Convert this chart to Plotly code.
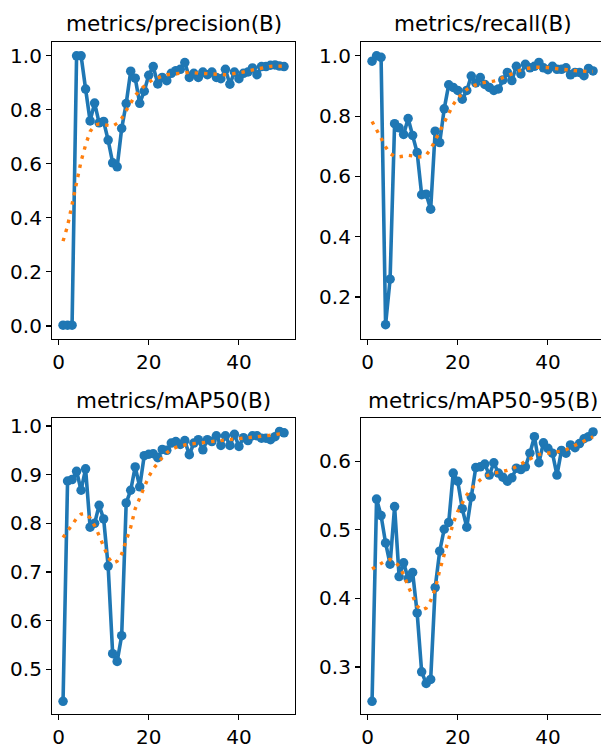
import plotly.graph_objects as go

W, H = 601, 749

epochs = list(range(1, 51))

precision = [0.003, 0.003, 0.003, 1.0, 1.0, 0.877, 0.759, 0.825, 0.752, 0.757,
             0.688, 0.604, 0.589, 0.731, 0.823, 0.943, 0.917, 0.824, 0.869, 0.928,
             0.96, 0.896, 0.92, 0.908, 0.935, 0.945, 0.95, 0.975, 0.92, 0.935,
             0.92, 0.94, 0.93, 0.94, 0.92, 0.915, 0.95, 0.895, 0.94, 0.915,
             0.935, 0.94, 0.955, 0.93, 0.96, 0.96, 0.965, 0.966, 0.962, 0.96]
precision_smooth = [0.314, 0.37, 0.45, 0.535, 0.61, 0.67, 0.72, 0.743, 0.748, 0.745,
                    0.741, 0.74, 0.75, 0.768, 0.797, 0.827, 0.853, 0.873, 0.888, 0.902,
                    0.912, 0.92, 0.925, 0.93, 0.932, 0.935, 0.937, 0.939, 0.939, 0.937,
                    0.936, 0.935, 0.934, 0.932, 0.93, 0.93, 0.93, 0.932, 0.934, 0.936,
                    0.94, 0.944, 0.948, 0.952, 0.956, 0.959, 0.961, 0.962, 0.962, 0.961]

recall = [0.982, 1.0, 0.995, 0.108, 0.259, 0.775, 0.761, 0.739, 0.792, 0.736,
          0.679, 0.539, 0.541, 0.491, 0.75, 0.712, 0.824, 0.904, 0.895, 0.885,
          0.856, 0.885, 0.933, 0.91, 0.928, 0.905, 0.895, 0.885, 0.89, 0.92,
          0.945, 0.918, 0.965, 0.94, 0.972, 0.96, 0.965, 0.978, 0.96, 0.954,
          0.965, 0.955, 0.955, 0.96, 0.937, 0.945, 0.945, 0.934, 0.958, 0.95]
recall_smooth = [0.782, 0.757, 0.727, 0.698, 0.676, 0.667, 0.665, 0.667, 0.67, 0.668,
                 0.664, 0.665, 0.671, 0.69, 0.72, 0.75, 0.78, 0.81, 0.838, 0.86,
                 0.876, 0.888, 0.898, 0.905, 0.909, 0.912, 0.914, 0.916, 0.921, 0.928,
                 0.935, 0.942, 0.948, 0.953, 0.957, 0.96, 0.962, 0.962, 0.962, 0.961,
                 0.959, 0.957, 0.955, 0.953, 0.952, 0.951, 0.95, 0.948, 0.948, 0.948]

map50 = [0.434, 0.887, 0.89, 0.907, 0.868, 0.912, 0.792, 0.8, 0.837, 0.809,
         0.712, 0.532, 0.516, 0.569, 0.842, 0.868, 0.916, 0.875, 0.939, 0.942,
         0.943, 0.935, 0.952, 0.95, 0.965, 0.968, 0.962, 0.97, 0.941, 0.965,
         0.972, 0.951, 0.972, 0.968, 0.98, 0.96, 0.98, 0.96, 0.983, 0.958,
         0.976, 0.97, 0.98, 0.98, 0.975, 0.975, 0.972, 0.978, 0.989, 0.986]
map50_smooth = [0.771, 0.784, 0.797, 0.81, 0.819, 0.82, 0.811, 0.795, 0.775, 0.752,
                0.73, 0.718, 0.722, 0.737, 0.762, 0.792, 0.83, 0.853, 0.877, 0.896,
                0.912, 0.925, 0.935, 0.945, 0.952, 0.956, 0.959, 0.961, 0.963, 0.964,
                0.965, 0.966, 0.967, 0.968, 0.969, 0.97, 0.97, 0.971, 0.972, 0.973,
                0.974, 0.975, 0.976, 0.977, 0.978, 0.979, 0.98, 0.982, 0.984, 0.985]

map5095 = [0.25, 0.545, 0.521, 0.481, 0.45, 0.534, 0.432, 0.452, 0.429, 0.438,
           0.379, 0.293, 0.276, 0.282, 0.416, 0.469, 0.501, 0.511, 0.583, 0.571,
           0.531, 0.504, 0.548, 0.591, 0.592, 0.596, 0.58, 0.598, 0.583, 0.577,
           0.571, 0.576, 0.59, 0.588, 0.592, 0.612, 0.636, 0.598, 0.627, 0.619,
           0.612, 0.58, 0.616, 0.612, 0.624, 0.62, 0.626, 0.633, 0.636, 0.643]
map5095_smooth = [0.443, 0.447, 0.451, 0.455, 0.457, 0.454, 0.447, 0.435, 0.418, 0.403,
                  0.389, 0.383, 0.386, 0.397, 0.414, 0.441, 0.465, 0.489, 0.51, 0.527,
                  0.54, 0.551, 0.56, 0.567, 0.573, 0.578, 0.581, 0.583, 0.584, 0.585,
                  0.587, 0.589, 0.592, 0.596, 0.6, 0.604, 0.607, 0.61, 0.611, 0.612,
                  0.612, 0.613, 0.615, 0.617, 0.62, 0.624, 0.627, 0.63, 0.633, 0.636]

titles = ["metrics/precision(B)", "metrics/recall(B)", "metrics/mAP50(B)", "metrics/mAP50-95(B)"]
series = [(precision, precision_smooth), (recall, recall_smooth),
          (map50, map50_smooth), (map5095, map5095_smooth)]
y_ranges = [[-0.0466, 1.0513], [0.062, 1.046], [0.408, 1.0157], [0.2315, 0.6627]]
y_ticks = [[0.0, 0.2, 0.4, 0.6, 0.8, 1.0], [0.2, 0.4, 0.6, 0.8, 1.0],
           [0.5, 0.6, 0.7, 0.8, 0.9, 1.0], [0.3, 0.4, 0.5, 0.6]]
x_ticks = [0, 20, 40]

# pixel boxes (left, right, top, bottom); right panels are cut by the page edge
px_per_epoch = 4.51
boxes = [(52, 295, 38.3, 337.7), (361, 601, 38.3, 337.7),
         (52, 295, 418.3, 716.7), (361, 601, 418.3, 716.7)]
full_right = [295, 604, 295, 604]

BLUE = "#1f77b4"
ORANGE = "#ff7f0e"
FONT = "DejaVu Sans"

fig = go.Figure()
annotations = []
for i, ((vals, smooth), title, yr, yt, box) in enumerate(zip(series, titles, y_ranges, y_ticks, boxes)):
    n = "" if i == 0 else str(i + 1)
    l, r, t, b = box
    x0 = -1.45
    x1 = x0 + (r - l) / px_per_epoch
    fig.add_trace(go.Scatter(x=epochs, y=vals, mode="lines+markers",
                             line=dict(color=BLUE, width=3.6),
                             marker=dict(color=BLUE, size=9.5),
                             xaxis="x" + n, yaxis="y" + n, showlegend=False))
    fig.add_trace(go.Scatter(x=epochs, y=smooth, mode="lines",
                             line=dict(color=ORANGE, width=3.4, dash="3.4px,6px"),
                             xaxis="x" + n, yaxis="y" + n, showlegend=False))
    cut = r < full_right[i]
    fig.layout["xaxis" + n] = dict(
        domain=[l / W, r / W], range=[x0, x1], anchor="y" + n,
        tickvals=x_ticks, ticktext=[str(v) for v in x_ticks],
        showline=True, linecolor="black", linewidth=1.1, mirror=True,
        ticks="outside", ticklen=5, tickwidth=1.1, tickcolor="black",
        showgrid=False, zeroline=False,
        tickfont=dict(family=FONT, size=20, color="black"))
    fig.layout["yaxis" + n] = dict(
        domain=[1 - b / H, 1 - t / H], range=yr, anchor="x" + n,
        tickvals=yt, ticktext=["%.1f" % v for v in yt],
        showline=True, linecolor="black", linewidth=1.1, mirror=not cut,
        ticks="outside", ticklen=5, tickwidth=1.1, tickcolor="black",
        showgrid=False, zeroline=False,
        tickfont=dict(family=FONT, size=20, color="black"))
    cx = (l + full_right[i]) / 2
    annotations.append(dict(text=title, x=cx / W, y=1 - (t - 18.5) / H,
                            xref="paper", yref="paper", xanchor="center", yanchor="middle",
                            showarrow=False,
                            font=dict(family=FONT, size=21.5, color="black")))

fig.update_layout(width=W, height=H, margin=dict(l=0, r=0, t=0, b=0),
                  paper_bgcolor="white", plot_bgcolor="white",
                  annotations=annotations, showlegend=False, hovermode=False)
fig.write_html("out.html", config={"displayModeBar": False, "staticPlot": True},
               post_script="document.body.style.margin='0';document.body.style.overflow='hidden';")
